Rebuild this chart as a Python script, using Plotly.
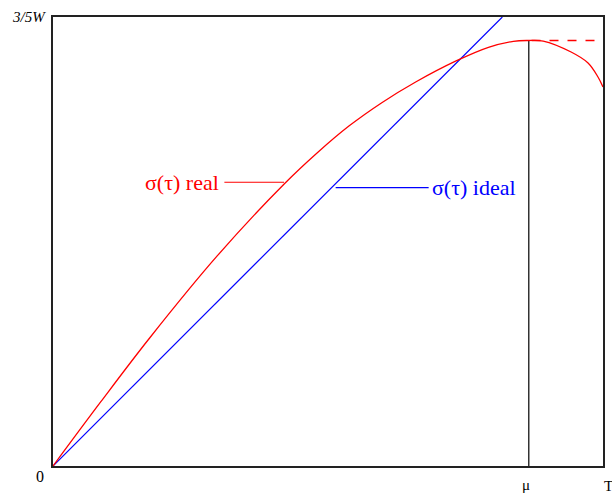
import plotly.graph_objects as go

# Data (x in units of T, y in units of 3/5W)
real_x = [0.0, 0.0870, 0.1757, 0.2989, 0.4203, 0.4801, 0.5380, 0.5978, 0.6594, 0.7319, 0.7917, 0.8370, 0.8641,
          0.8913, 0.9420, 0.9728, 0.9909, 1.0]
real_y = [0.0, 0.1432, 0.2851, 0.4684, 0.6281, 0.6971, 0.7570, 0.8091, 0.8552, 0.9016, 0.9325, 0.9459, 0.9477,
          0.9465, 0.9220, 0.8976, 0.8664, 0.8441]
ideal_x = [0.0, 0.817]
ideal_y = [0.0, 1.0]
mu = 0.865
peak = 0.9477
dash_x = [0.87, 1.0]
dash_y = [peak, peak]
mu_x = [mu, mu]
mu_y = [0.0, peak]
real_lbl_x = [0.3116, 0.420]
real_lbl_y = [0.632, 0.632]
ideal_lbl_x = [0.5139, 0.683]
ideal_lbl_y = [0.620, 0.620]

RED = "#ff0000"
BLUE = "#0000ff"
SERIF = "Liberation Serif, Times New Roman, serif"

fig = go.Figure()
fig.add_trace(go.Scatter(x=mu_x, y=mu_y, mode="lines", line=dict(color="#333333", width=1.5)))
fig.add_trace(go.Scatter(x=ideal_x, y=ideal_y, mode="lines", line=dict(color=BLUE, width=1.2)))
fig.add_trace(go.Scatter(x=real_x, y=real_y, mode="lines", line=dict(color=RED, width=1.3, shape="spline")))
fig.add_trace(go.Scatter(x=dash_x, y=dash_y, mode="lines", line=dict(color=RED, width=1.3, dash="dash")))
fig.add_trace(go.Scatter(x=real_lbl_x, y=real_lbl_y, mode="lines", line=dict(color=RED, width=1.2)))
fig.add_trace(go.Scatter(x=ideal_lbl_x, y=ideal_lbl_y, mode="lines", line=dict(color=BLUE, width=1.2)))

ann = [
    dict(x=0.306, y=0.632, text="σ(τ) real", xanchor="right", yanchor="middle",
         font=dict(family=SERIF, size=22, color=RED)),
    dict(x=0.686, y=0.620, text="σ(τ) ideal", xanchor="left", yanchor="middle",
         font=dict(family=SERIF, size=22, color=BLUE)),
    dict(x=-0.009, y=1.0, text="<i>3/5W</i>", xanchor="right", yanchor="middle",
         font=dict(family=SERIF, size=15, color="black")),
    dict(x=-0.0236, y=-0.0223, text="0", xanchor="center", yanchor="middle",
         font=dict(family=SERIF, size=16, color="black")),
    dict(x=0.8605, y=-0.043, text="μ", xanchor="center", yanchor="middle",
         font=dict(family=SERIF, size=15, color="black")),
    dict(x=1.0109, y=-0.0445, text="T", xanchor="center", yanchor="middle",
         font=dict(family=SERIF, size=15, color="black")),
]
for a in ann:
    a.update(xref="paper", yref="paper", showarrow=False)

fig.update_layout(
    width=612, height=493,
    margin=dict(l=53, r=7, t=17, b=27),
    paper_bgcolor="white", plot_bgcolor="white",
    showlegend=False,
    annotations=ann,
)
fig.update_xaxes(range=[0, 1], showgrid=False, zeroline=False, showticklabels=False,
                 ticks="", showline=True, mirror=True, linecolor="#222222", linewidth=1.5)
fig.update_yaxes(range=[0, 1], showgrid=False, zeroline=False, showticklabels=False,
                 ticks="", showline=True, mirror=True, linecolor="#222222", linewidth=1.5)

fig.write_html("out.html", config={"displayModeBar": False},
               post_script="document.body.style.margin='0px';")
